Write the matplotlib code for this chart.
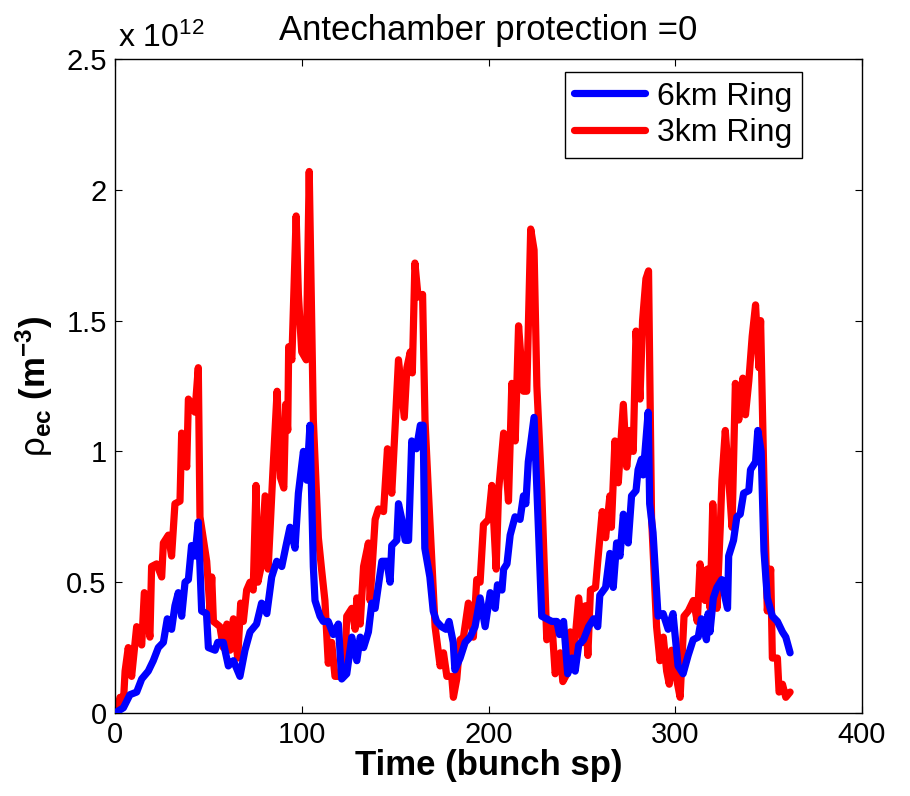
import matplotlib
matplotlib.use("Agg")
import matplotlib.pyplot as plt
from matplotlib.ticker import FuncFormatter

plt.rcParams['font.family'] = ['Liberation Sans', 'DejaVu Sans']
plt.rcParams['mathtext.fontset'] = 'custom'
plt.rcParams['mathtext.rm'] = 'Liberation Sans'
plt.rcParams['mathtext.bf'] = 'Liberation Sans:bold'
plt.rcParams['mathtext.it'] = 'Liberation Sans:italic'

title = "Antechamber protection =0"
xlabel = "Time (bunch sp)"
series_names = ["6km Ring", "3km Ring"]
xticks = [0, 100, 200, 300, 400]
yticks = [0, 0.5, 1, 1.5, 2, 2.5]

# values in units of 1e12 m^-3
red_x = [0, 0.9, 2.7, 4.5, 5.4, 7.1, 8.9, 11.6, 14.3, 15.7, 18.7, 19.6, 22.3, 25, 25.9,
         28.6, 30.3, 32.1, 34.8, 35.7, 38.4, 39.3, 41, 42.8, 44.6, 45.5, 49.1, 50.9, 51.8,
         52.7, 54.5, 56.2, 58, 59.9, 61.6, 63.4, 65.7, 67.3, 68.7, 70.5, 72.3, 74, 75.5,
         76.5, 78, 80.4, 82, 84.6, 86.8, 88.6, 90.4, 91.4, 92.5, 93, 94.7, 97, 98.2, 100,
         102.4, 104, 106.2, 108.9, 110.6, 112.4, 114.2, 116, 117.8, 120.5, 123.2, 124.1,
         126.8, 128.6, 129.5, 131.3, 133.1, 135.7, 136.6, 139.3, 141.1, 143.8, 145.9, 148.2,
         151.8, 154.9, 156.3, 158.1, 159.2, 160.6, 162.3, 164.7, 166, 167.8, 169.6, 171.4,
         174.1, 175.9, 177.7, 180.3, 181.2, 183, 184.8, 186.6, 189.2, 191.9, 193.7, 195.5,
         197.3, 200, 201.8, 204.1, 205.4, 208.1, 210.7, 212.5, 214.3, 216.1, 218.7, 220.5,
         222.6, 224.4, 225.9, 228.5, 231.2, 233.9, 235.7, 238.4, 239.8, 242, 243.8, 245.6,
         248.3, 250.6, 251.9, 253.2, 254.6, 257.3, 258.5, 260.9, 262.7, 265, 265.8, 267.7,
         269.5, 272.2, 274, 275.7, 277.5, 279, 281.1, 282.5, 284.3, 285.7, 287.3, 290,
         291.8, 293.6, 295.4, 296.8, 298.1, 299.9, 302.6, 304.7, 307, 309.7, 311.8, 313.3,
         316, 317.2, 318.7, 320.1, 322.3, 324.1, 325, 326.8, 328.6, 330.4, 332.2, 334,
         336.2, 337.6, 339.4, 341.2, 343, 344.8, 345.7, 347.5, 349.3, 351.1, 352, 354.7,
         355.6, 357.4, 359.2, 361.5]
red_y = [0, 0.01, 0.06, 0.04, 0.16, 0.25, 0.14, 0.33, 0.26, 0.46, 0.29, 0.56, 0.57, 0.52, 0.65,
         0.68, 0.60, 0.80, 0.81, 1.07, 0.94, 1.20, 1.18, 1.15, 1.32, 0.75, 0.58, 0.39, 0.52,
         0.35, 0.34, 0.33, 0.25, 0.34, 0.24, 0.36, 0.21, 0.42, 0.35, 0.47, 0.50, 0.47, 0.87,
         0.50, 0.55, 0.83, 0.55, 0.93, 1.23, 0.90, 0.86, 1.18, 1.08, 1.40, 1.35, 1.90, 1.60, 1.38,
         1.35, 2.07, 1.12, 0.67, 0.55, 0.43, 0.19, 0.27, 0.14, 0.14, 0.20, 0.37,
         0.40, 0.32, 0.44, 0.34, 0.56, 0.65, 0.43, 0.74, 0.78, 0.77, 1.01, 0.84,
         1.35, 1.13, 1.32, 1.38, 1.30, 1.72, 1.59, 1.60, 1.12, 0.85, 0.59, 0.33,
         0.18, 0.23, 0.14, 0.14, 0.06, 0.13, 0.28, 0.29, 0.42, 0.29, 0.51, 0.50,
         0.72, 0.74, 0.87, 0.55, 0.85, 1.07, 0.81, 1.26, 1.04, 1.48, 1.23, 1.23,
         1.85, 1.77, 1.25, 0.85, 0.28, 0.35, 0.15, 0.23, 0.12, 0.15, 0.31, 0.22,
         0.44, 0.27, 0.41, 0.22, 0.47, 0.48, 0.58, 0.77, 0.67, 0.83, 0.71, 1.04,
         0.88, 1.18, 0.94, 1.08, 1.00, 1.46, 1.20, 1.50, 1.66, 1.69, 0.75, 0.33,
         0.20, 0.29, 0.16, 0.11, 0.24, 0.16, 0.06, 0.37, 0.39, 0.43, 0.35, 0.57,
         0.43, 0.55, 0.40, 0.80, 0.40, 0.71, 0.89, 1.08, 0.90, 0.71, 1.26, 1.12,
         1.28, 1.14, 1.27, 1.44, 1.56, 1.32, 1.50, 0.88, 0.39, 0.55, 0.21, 0.21,
         0.08, 0.11, 0.06, 0.08]

blue_x = [0, 4.5, 8, 11.6, 14.3, 17.8, 20.5, 23.2, 25.9, 28, 30.3, 32.1, 33.9, 35.7, 37.5,
          39.3, 41, 42.8, 44.6, 46.4, 49, 50, 53.6, 55, 58, 60.7, 63.4, 66.9, 69.6, 72.3,
          75.8, 78.5, 81.3, 83.9, 86.6, 89.3, 91.6, 93.7, 96.4, 98.2, 100.9, 102.7, 104.4,
          106.2, 107.1, 109.8, 111.5, 114.2, 116.9, 119.6, 121.4, 124.1, 126.8, 129.5, 131.3,
          133.1, 135.7, 137.5, 139.3, 142.9, 145.6, 147.3, 148.2, 150.9, 151.8, 153.6, 155.4,
          157.2, 158.9, 161.4, 163.5, 165, 165.9, 168.6, 170.4, 172.2, 174.8, 177.2, 178.9,
          181.1, 182, 184.8, 187.5, 190.1, 192.8, 195.5, 198.2, 200.9, 203.6, 204.8, 207.2,
          208.1, 209.9, 211.6, 214.2, 216.9, 218.7, 220, 221.3, 224.4, 226.7, 228.5, 231.2,
          233.9, 236.6, 238, 240.2, 242.4, 244.7, 246.4, 248.3, 250.9, 253.6, 256.3, 258.5,
          259.6, 262.7, 265, 266.8, 268.6, 270.4, 272.2, 274.8, 276.6, 279, 280.1, 281.9,
          282.8, 285.5, 286.3, 288.1, 290.8, 293.5, 296.2, 298.8, 301.5, 304.2, 306.9, 309.6,
          312.3, 314, 316.7, 317.6, 318.6, 320.4, 322.3, 324.9, 326.7, 328, 328.6, 331.2,
          333, 334.8, 336.6, 339.4, 340.3, 343, 344.2, 346, 347.5, 349.3, 352, 354.7, 357.4,
          359.2, 361.5]
blue_y = [0, 0.02, 0.07, 0.08, 0.13, 0.16, 0.20, 0.25, 0.27, 0.36, 0.32, 0.41, 0.46, 0.37, 0.50,
          0.51, 0.64, 0.60, 0.73, 0.39, 0.38, 0.25, 0.24, 0.27, 0.27, 0.18, 0.20, 0.14, 0.24, 0.31,
          0.34, 0.42, 0.38, 0.52, 0.58, 0.56, 0.64, 0.71, 0.63, 0.84, 1.00, 0.89, 1.10,
          0.56, 0.43, 0.37, 0.35, 0.35, 0.30, 0.34, 0.13, 0.15, 0.29, 0.20, 0.29,
          0.25, 0.31, 0.42, 0.40, 0.58, 0.58, 0.50, 0.64, 0.66, 0.80, 0.74, 0.66,
          0.66, 1.04, 1.01, 1.10, 1.10, 0.63, 0.52, 0.39, 0.35, 0.33, 0.32, 0.35,
          0.27, 0.165, 0.21, 0.27, 0.29, 0.33, 0.44, 0.33, 0.46, 0.40, 0.49, 0.47,
          0.55, 0.57, 0.68, 0.75, 0.74, 0.83, 0.80, 0.96, 1.13, 0.71, 0.37, 0.36,
          0.35, 0.35, 0.30, 0.35, 0.15, 0.21, 0.16, 0.26, 0.28, 0.33, 0.36, 0.33,
          0.45, 0.48, 0.61, 0.48, 0.65, 0.60, 0.76, 0.65, 0.83, 0.85, 0.93, 0.97,
          0.91, 1.15, 0.80, 0.69, 0.37, 0.38, 0.32, 0.38, 0.18, 0.15, 0.22, 0.28,
          0.29, 0.36, 0.28, 0.38, 0.31, 0.44, 0.48, 0.51, 0.44, 0.40, 0.60, 0.66,
          0.75, 0.76, 0.84, 0.85, 0.93, 0.96, 1.08, 1.00, 0.62, 0.44, 0.37, 0.35, 0.31,
          0.29, 0.23]

fig = plt.figure(figsize=(9.10, 7.96), dpi=100)
ax = fig.add_axes([115/910, 83/796, 747/910, 654/796])

ax.plot(red_x, red_y, color='#ff0000', lw=5.2, solid_joinstyle='round',
        solid_capstyle='round', label=series_names[1], zorder=2)
ax.plot(blue_x, blue_y, color='#0000ff', lw=5.2, solid_joinstyle='round',
        solid_capstyle='round', label=series_names[0], zorder=3)

ax.set_xlim(0, 400)
ax.set_ylim(0, 2.5)
ax.set_xticks(xticks)
ax.set_yticks(yticks)
ax.yaxis.set_major_formatter(FuncFormatter(lambda v, p: f"{v:g}"))
ax.tick_params(direction='in', top=True, right=True, length=5, width=0.8,
               labelsize=21, pad=6)
for s in ax.spines.values():
    s.set_linewidth(1.0)

ax.set_title(title, fontsize=25, pad=14)
ax.set_xlabel(xlabel, fontsize=25, fontweight='bold', labelpad=0)
ax.set_ylabel(r'$\mathrm{\rho}_{\mathbf{ec}}$ $\mathbf{(m^{-3})}$', fontsize=25, labelpad=8)

ax.text(0.004, 1.008, r'x 10$^{12}$', transform=ax.transAxes, fontsize=23,
        ha='left', va='bottom')

handles, labels = ax.get_legend_handles_labels()
leg = ax.legend([handles[1], handles[0]], [labels[1], labels[0]],
                loc='upper right', bbox_to_anchor=(0.92, 0.98), fontsize=23,
                frameon=True, fancybox=False, edgecolor='black', framealpha=1,
                handlelength=2.2, borderpad=0.3, labelspacing=0.2, handletextpad=0.4,
                borderaxespad=0)
leg.get_frame().set_linewidth(1.0)

fig.savefig('out.png', dpi=100)
